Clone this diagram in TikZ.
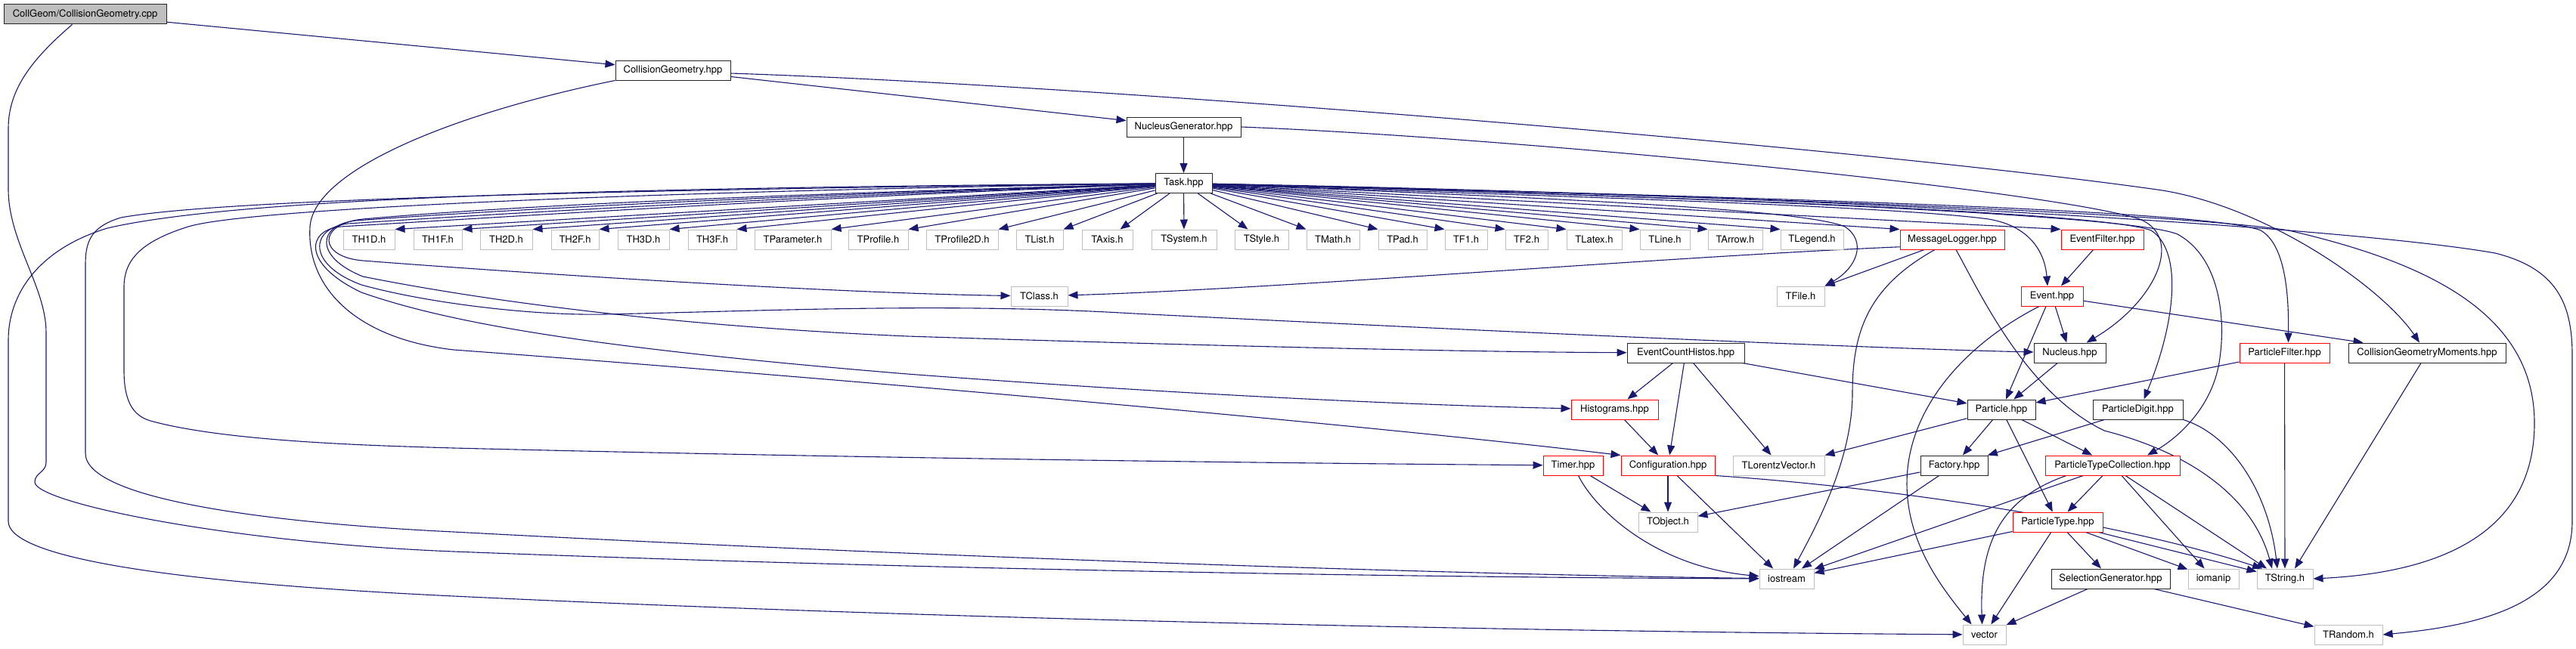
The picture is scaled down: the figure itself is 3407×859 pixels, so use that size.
\documentclass[tikz,border=0pt]{standalone}
\usepackage{fontspec}
\setmainfont{TeX Gyre Heros}
\usetikzlibrary{arrows.meta,backgrounds}
\definecolor{eblue}{HTML}{191970}
\definecolor{lgray}{HTML}{BFBFBF}
\begin{document}
\begin{tikzpicture}[x=1pt,y=-1pt,
 nd/.style={rectangle, line width=1.0pt, inner sep=0pt, minimum height=26pt, fill=white, text=black, font=\fontsize{13pt}{15pt}\selectfont},
 blk/.style={nd, draw=black!85},
 redn/.style={nd, draw=red},
 grn/.style={nd, draw=lgray},
 rootn/.style={nd, draw=black!85, fill=lgray},
 edg/.style={color=eblue, line width=1.1pt, -{Triangle[length=13pt,width=10pt]}}]
\useasboundingbox (0,0) rectangle (3407,859);
% row 0-3
\node[rootn, minimum width=215pt] (cpp) at (112.5,19) {CollGeom/CollisionGeometry.cpp};
\node[blk, minimum width=152pt] (cgh) at (890,93) {CollisionGeometry.hpp};
\node[blk, minimum width=151pt] (ngen) at (1565.5,168) {NucleusGenerator.hpp};
\node[blk, minimum width=75pt] (task) at (1565.5,242.5) {Task.hpp};
% row 4
\node[grn, minimum width=68pt] (th1d) at (488,317) {TH1D.h};
\node[grn, minimum width=64pt] (th1f) at (579,317) {TH1F.h};
\node[grn, minimum width=69pt] (th2d) at (669.5,317) {TH2D.h};
\node[grn, minimum width=63pt] (th2f) at (760.5,317) {TH2F.h};
\node[grn, minimum width=68pt] (th3d) at (851,317) {TH3D.h};
\node[grn, minimum width=64pt] (th3f) at (942,317) {TH3F.h};
\node[grn, minimum width=101pt] (tparam) at (1048.5,317) {TParameter.h};
\node[grn, minimum width=79pt] (tprof) at (1161.5,317) {TProfile.h};
\node[grn, minimum width=95pt] (tprofb) at (1272.5,317) {TProfile2D.h};
\node[grn, minimum width=62pt] (tlist) at (1375,317) {TList.h};
\node[grn, minimum width=67pt] (taxis) at (1464.5,317) {TAxis.h};
\node[grn, minimum width=86pt] (tsys) at (1566,317) {TSystem.h};
\node[grn, minimum width=71pt] (tstyle) at (1668.5,317) {TStyle.h};
\node[grn, minimum width=70pt] (tmath) at (1763,317) {TMath.h};
\node[grn, minimum width=64pt] (tpad) at (1855,317) {TPad.h};
\node[grn, minimum width=56pt] (tfone) at (1939,317) {TF1.h};
\node[grn, minimum width=56pt] (tftwo) at (2019,317) {TF2.h};
\node[grn, minimum width=73pt] (tlatex) at (2108.5,317) {TLatex.h};
\node[grn, minimum width=66pt] (tline) at (2202,317) {TLine.h};
\node[grn, minimum width=72pt] (tarrow) at (2295,317) {TArrow.h};
\node[grn, minimum width=83pt] (tlegend) at (2396.5,317) {TLegend.h};
\node[redn, minimum width=138pt] (msglog) at (2582,317) {MessageLogger.hpp};
\node[redn, minimum width=109pt] (evfilt) at (2780.5,317) {EventFilter.hpp};
% row 5
\node[grn, minimum width=75pt] (tclass) at (1374.5,392) {TClass.h};
\node[grn, minimum width=63pt] (tfile) at (2381.5,392) {TFile.h};
\node[redn, minimum width=82pt] (event) at (2714,392) {Event.hpp};
% row 6
\node[blk, minimum width=155pt] (ech) at (2229.5,467) {EventCountHistos.hpp};
\node[blk, minimum width=95pt] (nucleus) at (2737.5,467) {Nucleus.hpp};
\node[redn, minimum width=119pt] (pfilter) at (3021.5,467) {ParticleFilter.hpp};
\node[blk, minimum width=208pt] (cgm) at (3210,467) {CollisionGeometryMoments.hpp};
% row 7
\node[redn, minimum width=115pt] (hist) at (2135.5,542) {Histograms.hpp};
\node[blk, minimum width=90pt] (particle) at (2647,542) {Particle.hpp};
\node[blk, minimum width=119pt] (pdigit) at (2827.5,542) {ParticleDigit.hpp};
% row 8
\node[redn, minimum width=79pt] (timer) at (2080.5,616) {Timer.hpp};
\node[redn, minimum width=124pt] (config) at (2206,616) {Configuration.hpp};
\node[grn, minimum width=121pt] (tlv) at (2352.5,616) {TLorentzVector.h};
\node[blk, minimum width=89pt] (factory) at (2584.5,616) {Factory.hpp};
\node[redn, minimum width=178pt] (ptc) at (2794,616) {ParticleTypeCollection.hpp};
% row 9
\node[grn, minimum width=78pt] (tobject) at (2206,691) {TObject.h};
\node[redn, minimum width=119pt] (ptype) at (2721.5,691) {ParticleType.hpp};
% row 10
\node[grn, minimum width=72pt] (iostream) at (2363,766) {iostream};
\node[blk, minimum width=157pt] (selgen) at (2791.5,766) {SelectionGenerator.hpp};
\node[grn, minimum width=67pt] (iomanip) at (2927.5,766) {iomanip};
\node[grn, minimum width=74pt] (tstring) at (3022,766) {TString.h};
% row 11
\node[grn, minimum width=57pt] (vector) at (2624.5,840) {vector};
\node[grn, minimum width=90pt] (trandom) at (3106,840) {TRandom.h};

\begin{scope}[on background layer]
\fill[white] (0,0) rectangle (3407,859);
% root
\draw[edg] (cpp) -- (cgh);
\draw[edg] ([xshift=-17pt]cpp.south) .. controls (40,80) and (11,120) .. (11,170) -- (11,250) .. controls (11,320) and (61,380) .. (61,440) -- (61,612) .. controls (61,625) and (46,626) .. (46,638) .. controls (46,665) and (300,718) .. (600,730) .. controls (1300,757) and (2000,765) .. (iostream);
% CollisionGeometry.hpp
\draw[edg] (cgh) -- (ngen);
\draw[edg] (cgh.-3) .. controls (1500,115) and (2500,200) .. (2860,252) .. controls (3000,275) and (3150,380) .. ([xshift=-10pt]cgm.north);
\draw[edg] (cgh.south west) .. controls (600,150) and (415,225) .. (410,300) .. controls (405,380) and (470,448) .. (600,463) .. controls (900,485) and (1700,550) .. (config.north west);
% NucleusGenerator
\draw[edg] (ngen) -- (task);
\draw[edg] (ngen.east) .. controls (2000,182) and (2700,250) .. (2830,290) .. controls (2890,315) and (2850,400) .. ([xshift=22pt]nucleus.north);
% Task -> row 4
\foreach \n in {th1d,th1f,th2d,th2f,th3d,th3f,tparam,tprof,tprofb,tlist}
  \draw[edg] (task) -- (\n.north east);
\draw[edg] (task) -- ([xshift=-17pt]taxis.north east);
\draw[edg] (task) -- (tsys);
\draw[edg] (task) -- ([xshift=18pt]tstyle.north west);
\foreach \n in {tmath,tpad,tfone,tftwo,tlatex,tline,tarrow,tlegend}
  \draw[edg] (task) -- (\n.north west);
\draw[edg] (task) -- (msglog.north west);
\draw[edg] (task) -- (evfilt.north west);
% Task -> right
\draw[edg] (task) .. controls (2000,258) and (2500,272) .. (2630,290) .. controls (2690,300) and (2705,340) .. ([xshift=-6pt]event.north);
\draw[edg] (task) .. controls (2000,260) and (2380,275) .. (2440,300) .. controls (2470,320) and (2455,355) .. (tfile.north east);
\draw[edg] (task) .. controls (2200,260) and (2780,280) .. (2845,305) .. controls (2885,330) and (2880,420) .. ([xshift=8pt]pdigit.north);
\draw[edg] (task) .. controls (2300,262) and (2820,285) .. (2880,310) .. controls (2935,340) and (2945,420) .. (2935,480) .. controls (2925,540) and (2880,580) .. ([xshift=46pt]ptc.north);
\draw[edg] (task) .. controls (2400,262) and (2930,280) .. (2990,305) .. controls (3025,325) and (3027,400) .. ([xshift=5pt]pfilter.north);
\draw[edg] (task) .. controls (2400,262) and (2900,285) .. (3027,305) .. controls (3200,345) and (3352,410) .. (3352,560) .. controls (3352,710) and (3220,758) .. (tstring.east);
\draw[edg] (task) .. controls (2400,258) and (3100,300) .. (3300,335) .. controls (3380,355) and (3402,400) .. (3402,470) -- (3402,690) .. controls (3402,800) and (3280,828) .. (trandom.east);
% Task -> left loops
\draw[edg] (task) .. controls (900,248) and (330,258) .. (142,302) .. controls (50,330) and (11,390) .. (11,450) -- (11,690) .. controls (11,735) and (200,770) .. (600,789) .. controls (1200,818) and (2000,836) .. (vector);
\draw[edg] (task) .. controls (900,250) and (300,262) .. (160,288) .. controls (120,300) and (113,320) .. (113,350) -- (113,600) .. controls (113,660) and (350,692) .. (600,704) .. controls (1200,736) and (1900,760) .. (iostream);
\draw[edg] (task) .. controls (900,252) and (330,275) .. (249,300) .. controls (185,320) and (164,345) .. (164,380) -- (164,490) .. controls (164,530) and (175,550) .. (199,557) .. controls (300,585) and (500,590) .. (600,593) .. controls (1200,608) and (1800,614) .. (timer);
\draw[edg] (task) .. controls (1100,255) and (700,270) .. (480,290) .. controls (420,296) and (420,340) .. (480,345) .. controls (700,362) and (1100,388) .. (tclass);
\draw[edg] (task) .. controls (1100,256) and (700,275) .. (470,292) .. controls (420,298) and (415,340) .. (480,366) .. controls (650,400) and (900,432) .. (1200,445) .. controls (1600,458) and (1950,466) .. (ech);
\draw[edg] (task) .. controls (1100,258) and (700,280) .. (460,296) .. controls (410,302) and (405,350) .. (478,377) .. controls (560,400) and (700,418) .. (800,416) .. controls (1000,412) and (1250,400) .. (1500,415) .. controls (2000,440) and (2500,462) .. (nucleus);
\draw[edg] (task) .. controls (1100,260) and (700,285) .. (450,300) .. controls (405,305) and (400,350) .. (478,387) .. controls (600,430) and (800,462) .. (1200,495) .. controls (1600,525) and (1900,537) .. (hist);
% Event
\draw[edg] (evfilt) -- (event);
\draw[edg] (event) -- (nucleus);
\draw[edg] ([xshift=-8pt]event.south) -- ([xshift=6pt]particle.north);
\draw[edg] ([xshift=-17pt]event.south) .. controls (2600,455) and (2522,540) .. (2522,640) .. controls (2522,720) and (2570,780) .. ([xshift=-17pt]vector.north);
\draw[edg] (event) -- ([xshift=20pt]cgm.north west);
% MessageLogger
\draw[edg] (msglog.188) .. controls (2200,340) and (1700,382) .. (tclass);
\draw[edg] (msglog) -- (tfile.north east);
\draw[edg] ([xshift=-23pt]msglog.south) .. controls (2470,380) and (2450,440) .. (2450,520) .. controls (2450,610) and (2400,700) .. ([xshift=9pt]iostream.north);
\draw[edg] ([xshift=5pt]msglog.south) .. controls (2620,390) and (2680,520) .. (2783,570) .. controls (2900,600) and (2980,660) .. ([xshift=-17pt]tstring.north);
% EventCountHistos, Histograms
\draw[edg] (ech) -- (hist);
\draw[edg] (ech) -- (config);
\draw[edg] ([xshift=10pt]ech.south) -- ([xshift=-10pt]tlv.north);
\draw[edg] (ech) -- (particle);
\draw[edg] (hist) -- (config);
% Timer, Configuration
\draw[edg] (timer) -- (tobject);
\draw[edg] ([xshift=7pt]timer.south) .. controls (2110,675) and (2190,750) .. (iostream);
\draw[edg] (config) -- (tobject);
\draw[edg] ([xshift=12pt]config.south) -- ([xshift=-18pt]iostream.north);
\draw[edg] (config.south east) .. controls (2500,645) and (2800,690) .. ([xshift=-30pt]tstring.north);
% Nucleus, Particle
\draw[edg] (nucleus) -- (particle);
\draw[edg] (particle) -- (tlv.north east);
\draw[edg] (particle) -- (factory);
\draw[edg] (particle) -- (ptc);
\draw[edg] (particle) -- (ptype);
% ParticleDigit, ParticleFilter, CGM
\draw[edg] (pdigit) -- (factory);
\draw[edg] (pdigit.south east) .. controls (2950,575) and (3000,650) .. ([xshift=-10pt]tstring.north);
\draw[edg] (pfilter) -- (particle);
\draw[edg] (pfilter) -- (tstring);
\draw[edg] ([xshift=-8pt]cgm.south) -- ([xshift=13pt]tstring.north);
% Factory
\draw[edg] (factory) -- (tobject);
\draw[edg] (factory) -- (iostream);
% ParticleTypeCollection
\draw[edg] (ptc) -- (iostream);
\draw[edg] ([xshift=-61pt]ptc.south) .. controls (2645,660) and (2618,720) .. ([xshift=-3pt]vector.north);
\draw[edg] (ptc) -- (ptype);
\draw[edg] (ptc) -- (iomanip);
\draw[edg] ([xshift=17pt]ptc.south) -- ([xshift=-24pt]tstring.north);
% ParticleType
\draw[edg] (ptype) -- (iostream);
\draw[edg] (ptype) -- (vector);
\draw[edg] (ptype) -- (selgen);
\draw[edg] (ptype) -- (iomanip);
\draw[edg] (ptype) -- (tstring);
% SelectionGenerator
\draw[edg] (selgen) -- (vector);
\draw[edg] (selgen) -- (trandom);
\end{scope}
\end{tikzpicture}
\end{document}
